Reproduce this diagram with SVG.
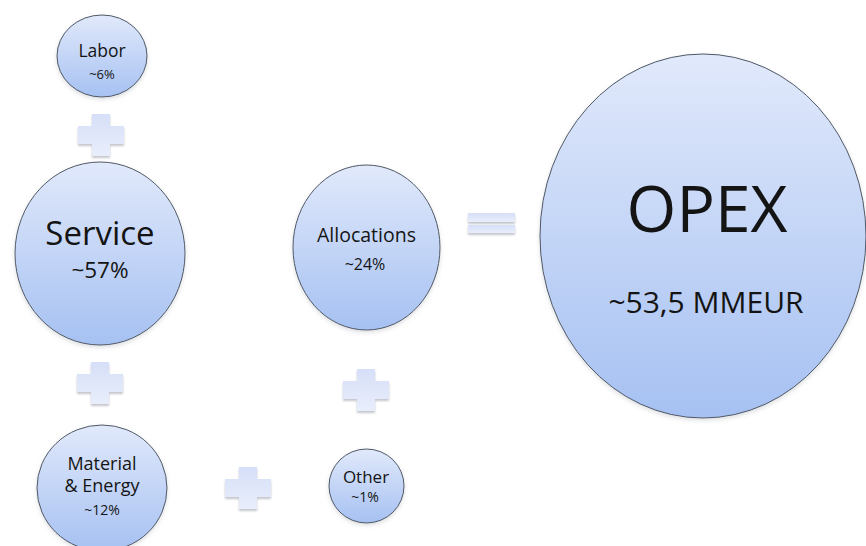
<svg xmlns="http://www.w3.org/2000/svg" width="866" height="546" viewBox="0 0 866 546">
  <defs>
    <linearGradient id="bubbleFill" x1="0" y1="0" x2="0" y2="1">
      <stop offset="0" stop-color="#e1e9fb"/>
      <stop offset="1" stop-color="#a6c1f2"/>
    </linearGradient>
    <linearGradient id="opFill" x1="0" y1="0" x2="0" y2="1">
      <stop offset="0" stop-color="#d6dff8"/>
      <stop offset="1" stop-color="#e9eefc"/>
    </linearGradient>
    <filter id="opShadow" x="-30%" y="-30%" width="160%" height="170%">
      <feDropShadow dx="0" dy="2" stdDeviation="1.2" flood-color="#7a808c" flood-opacity="0.45"/>
    </filter>
    <filter id="bubbleShadow" x="-10%" y="-10%" width="120%" height="125%">
      <feDropShadow dx="0" dy="2" stdDeviation="2" flood-color="#9aa0a8" flood-opacity="0.35"/>
    </filter>
    <!-- plus sign centred on the origin -->
    <path id="plus" d="M-9,-21 H9 V-9 H23 V9 H9 V21 H-9 V9 H-23 V-9 H-9 Z"/>
  </defs>
  <style>
    .bubble { fill: url(#bubbleFill); stroke: #4f5866; stroke-width: 1; filter: url(#bubbleShadow); }
    .op { fill: url(#opFill); filter: url(#opShadow); }
    text { font-family: "Open Sans", "Liberation Sans", sans-serif; fill: #141414; text-anchor: middle; }
  </style>

  <rect width="866" height="546" fill="#ffffff"/>

  <!-- operators joining the cost components -->
  <g id="connectors">
    <use href="#plus" class="op" x="101" y="135"/>
    <use href="#plus" class="op" x="100" y="383"/>
    <use href="#plus" class="op" x="366" y="390"/>
    <use href="#plus" class="op" x="248" y="488"/>
    <g class="op">
      <rect x="468" y="213" width="47" height="9"/>
      <rect x="468" y="225" width="47" height="8"/>
    </g>
  </g>

  <g id="labor">
    <ellipse class="bubble" cx="102" cy="56" rx="45" ry="41"/>
    <text x="102" y="57" font-size="17.5">Labor</text>
    <text x="102" y="79" font-size="13">~6%</text>
  </g>

  <g id="service">
    <ellipse class="bubble" cx="100" cy="253.5" rx="85" ry="91.5"/>
    <text x="100" y="245" font-size="33">Service</text>
    <text x="100" y="278" font-size="22.5">~57%</text>
  </g>

  <g id="material-energy">
    <ellipse class="bubble" cx="102" cy="488" rx="65" ry="63"/>
    <text x="102" y="470" font-size="18">Material</text>
    <text x="102" y="492" font-size="18">&amp; Energy</text>
    <text x="102" y="515" font-size="14">~12%</text>
  </g>

  <g id="allocations">
    <ellipse class="bubble" cx="366.5" cy="247.5" rx="73.5" ry="82.5"/>
    <text x="366.5" y="242" font-size="19.5">Allocations</text>
    <text x="365" y="270" font-size="16">~24%</text>
  </g>

  <g id="other">
    <ellipse class="bubble" cx="366.5" cy="486" rx="37.5" ry="37"/>
    <text x="366" y="483" font-size="17">Other</text>
    <text x="365" y="502" font-size="14">~1%</text>
  </g>

  <g id="opex">
    <ellipse class="bubble" cx="703" cy="236" rx="163" ry="182"/>
    <text x="707" y="232" font-size="64">OPEX</text>
    <text x="706" y="313" font-size="30">~53,5 MMEUR</text>
  </g>
</svg>
